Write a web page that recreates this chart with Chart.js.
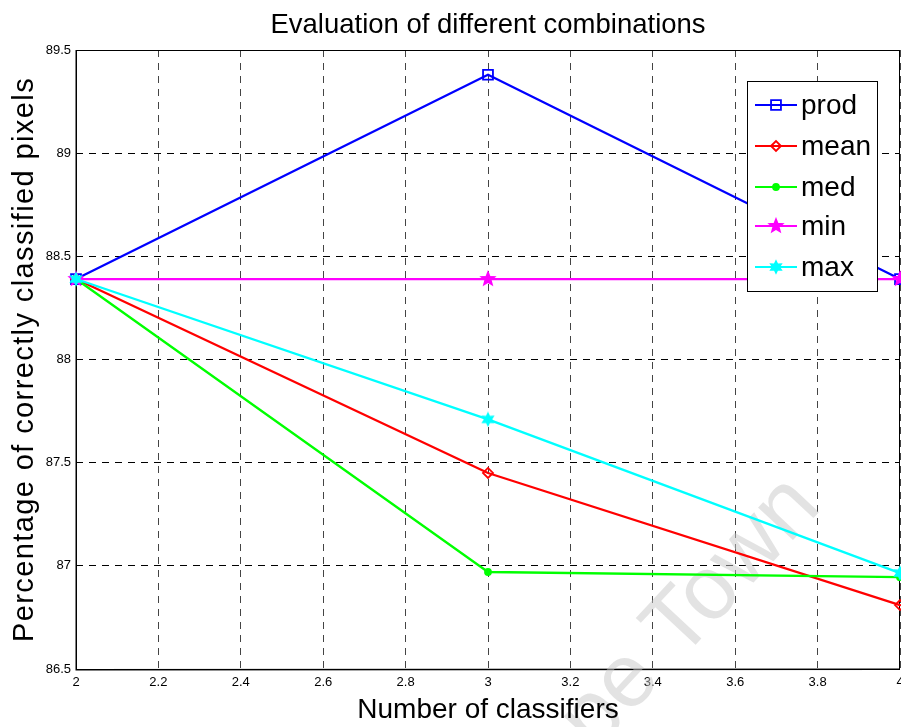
<!DOCTYPE html>
<html>
<head>
<meta charset="utf-8">
<script src="https://cdn.jsdelivr.net/npm/chart.js@4/dist/chart.umd.min.js"></script>
<style>
  html, body { margin:0; padding:0; background:#fff; }
  canvas { display:block; }
</style>
</head>
<body>
<canvas id="evalChart" width="901" height="727"></canvas>
<script>
// Evaluation of different combinations (MATLAB-style line plot)

// DATA
// ============================================================
const CLASSIFIERS = [2, 3, 4];
const PROD = [88.39, 89.38, 88.39];
const MEAN = [88.39, 87.45, 86.81];
const MED  = [88.39, 86.97, 86.945];
const MIN  = [88.39, 88.39, 88.39];
const MAX  = [88.39, 87.71, 86.965];
const Y_TICKS = [86.5, 87, 87.5, 88, 88.5, 89, 89.5];
const X_TICKS = [2, 2.2, 2.4, 2.6, 2.8, 3, 3.2, 3.4, 3.6, 3.8, 4];

const FONT = "'Liberation Sans', Arial, Helvetica, sans-serif";

// star-shaped markers drawn once onto small canvases
function starMarker(color, points, outer, inner) {
  const s = outer * 2 + 4;
  const c = document.createElement('canvas');
  c.width = s; c.height = s;
  const g = c.getContext('2d');
  g.translate(s / 2, s / 2);
  g.beginPath();
  for (let i = 0; i < points * 2; i++) {
    const r = i % 2 === 0 ? outer : inner;
    const a = -Math.PI / 2 + i * Math.PI / points;
    g.lineTo(Math.cos(a) * r, Math.sin(a) * r);
  }
  g.closePath();
  g.fillStyle = color;
  g.fill();
  g.strokeStyle = color;
  g.lineWidth = 1.5;
  g.stroke();
  return c;
}
const pentagram = starMarker('#ff00ff', 5, 7, 3);
const hexagram = starMarker('#00ffff', 6, 6, 3.2);

const toPts = arr => arr.map((v, i) => ({ x: CLASSIFIERS[i], y: v }));

const SERIES = [
  { label:'prod', data:PROD, color:'#0000ff', style:'rect',   radius:7, fill:'rgba(0,0,0,0)', order:5 },
  { label:'mean', data:MEAN, color:'#ff0000', style:'rectRot',radius:5, fill:'rgba(0,0,0,0)', order:4 },
  { label:'med',  data:MED,  color:'#00ff00', style:'circle', radius:3, fill:'#00ff00',       order:3 },
  { label:'min',  data:MIN,  color:'#ff00ff', style:pentagram,radius:7, fill:'#ff00ff',       order:2 },
  { label:'max',  data:MAX,  color:'#00ffff', style:hexagram, radius:6, fill:'#00ffff',       order:1 },
];

// PLUGIN: title, axis titles, frame, legend, watermark
// ============================================================
const decorations = {
  id: 'decorations',
  beforeDatasetsDraw(chart) {
    const ctx = chart.ctx;
    const a = chart.chartArea;
    // solid axes frame over the dashed grid
    ctx.save();
    ctx.strokeStyle = '#000';
    ctx.lineWidth = 1.5;
    ctx.beginPath();
    ctx.moveTo(Math.round(a.left) + 0.25, a.top);
    ctx.lineTo(Math.round(a.left) + 0.25, a.bottom + 0.75);
    ctx.lineTo(a.right, Math.round(a.bottom) + 0.25);
    ctx.stroke();
    ctx.lineWidth = 1;
    ctx.beginPath();
    ctx.moveTo(a.left, Math.round(a.top) + 0.5);
    ctx.lineTo(a.right, Math.round(a.top) + 0.5);
    ctx.moveTo(Math.round(a.right) - 0.5, a.top);
    ctx.lineTo(Math.round(a.right) - 0.5, a.bottom);
    ctx.stroke();
    ctx.restore();

    // faint watermark
    ctx.save();
    ctx.translate(823, 508);
    ctx.rotate(-47 * Math.PI / 180);
    ctx.font = `90px ${FONT}`;
    ctx.fillStyle = 'rgba(200,200,200,0.5)';
    ctx.textAlign = 'right';
    ctx.textBaseline = 'alphabetic';
    ctx.fillText('University of Cape Town', 0, 0);
    ctx.restore();
  },
  afterDraw(chart) {
    const ctx = chart.ctx;
    const a = chart.chartArea;
    ctx.save();

    // title
    ctx.fillStyle = '#000';
    ctx.textAlign = 'center';
    ctx.textBaseline = 'alphabetic';
    ctx.font = `27.5px ${FONT}`;
    ctx.fillText('Evaluation of different combinations', (a.left + a.right) / 2, 33);

    // x axis title
    ctx.font = `28px ${FONT}`;
    ctx.fillText('Number of classifiers', (a.left + a.right) / 2, 718);

    // y axis title
    ctx.save();
    ctx.translate(33, (a.top + a.bottom) / 2);
    ctx.rotate(-Math.PI / 2);
    ctx.font = `29px ${FONT}`;
    ctx.letterSpacing = '1.4px';
    ctx.fillText('Percentage of correctly classified pixels', 0, 0);
    ctx.restore();

    // legend box
    const bx = 747, by = 81, bw = 130, bh = 210;
    ctx.fillStyle = '#fff';
    ctx.fillRect(bx, by, bw, bh);
    ctx.strokeStyle = '#000';
    ctx.lineWidth = 1;
    ctx.strokeRect(bx + 0.5, by + 0.5, bw, bh);
    const rowY = [105, 146, 187, 226, 267];
    chart.data.datasets.forEach((ds, i) => {
      const y = rowY[i];
      ctx.strokeStyle = ds.borderColor;
      ctx.lineWidth = 2;
      ctx.beginPath();
      ctx.moveTo(755, y);
      ctx.lineTo(797, y);
      ctx.stroke();
      ctx.fillStyle = ds.pointBackgroundColor;
      ctx.strokeStyle = ds.borderColor;
      ctx.lineWidth = ds.pointBorderWidth;
      Chart.helpers.drawPoint(ctx, { pointStyle: ds.pointStyle, radius: ds.pointRadius, rotation: 0, borderWidth: ds.pointBorderWidth }, 776, y);
      ctx.fillStyle = '#000';
      ctx.textAlign = 'left';
      ctx.textBaseline = 'middle';
      ctx.font = `28px ${FONT}`;
      ctx.fillText(ds.label, 801, y + 1);
    });
    ctx.restore();
  }
};

// CHART
// ============================================================
new Chart(document.getElementById('evalChart'), {
  type: 'line',
  data: {
    datasets: SERIES.map(s => ({
      label: s.label,
      data: toPts(s.data),
      borderColor: s.color,
      backgroundColor: s.color,
      borderWidth: 2.3,
      pointStyle: s.style,
      pointRadius: s.radius,
      pointBorderWidth: 1.8,
      pointBorderColor: s.color,
      pointBackgroundColor: s.fill,
      tension: 0,
      fill: false,
      clip: false,
      order: s.order,
    }))
  },
  options: {
    responsive: false,
    animation: false,
    devicePixelRatio: 1,
    layout: { autoPadding: false, padding: { top: 50, right: 1, left: 0, bottom: 0 } },
    plugins: {
      legend: { display: false },
      title: { display: false },
      tooltip: { enabled: false },
    },
    scales: {
      x: {
        type: 'linear',
        min: 2, max: 4,
        afterBuildTicks: scale => { scale.ticks = X_TICKS.map(v => ({ value: v })); },
        afterFit: scale => { scale.height = 58; scale.paddingLeft = 0; scale.paddingRight = 0; },
        ticks: {
          color: '#000',
          font: { family: FONT, size: 13 },
          padding: 6,
          maxRotation: 0,
          autoSkip: false,
          callback: v => String(v),
        },
        grid: { color: '#444', lineWidth: 1, drawTicks: false },
        border: { display: false, dash: [7, 6] },
      },
      y: {
        type: 'linear',
        min: 86.5, max: 89.5,
        afterBuildTicks: scale => { scale.ticks = Y_TICKS.map(v => ({ value: v })); },
        afterFit: scale => { scale.width = 76; scale.paddingTop = 0; scale.paddingBottom = 0; },
        ticks: {
          color: '#000',
          font: { family: FONT, size: 13 },
          padding: 5,
          autoSkip: false,
          callback: v => String(v),
        },
        grid: { color: '#000', lineWidth: 1, drawTicks: false },
        border: { display: false, dash: [7, 6] },
      }
    },
    elements: { line: { borderCapStyle: 'round', borderJoinStyle: 'round' } },
  },
  plugins: [decorations]
});
</script>
</body>
</html>
